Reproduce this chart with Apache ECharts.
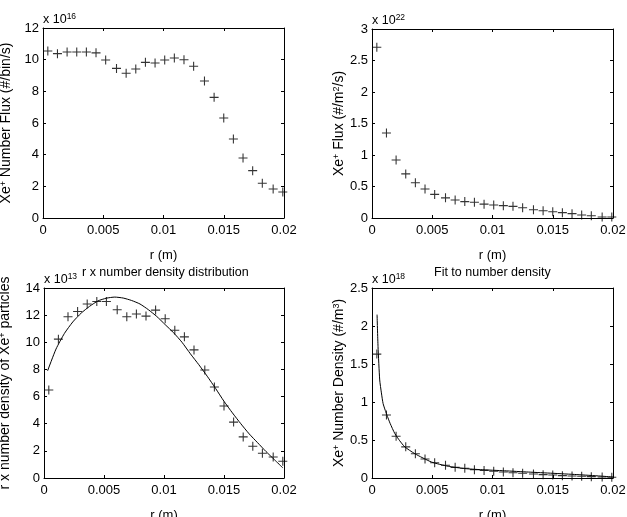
<!DOCTYPE html>
<html>
<head>
<meta charset="utf-8">
<script src="https://cdn.jsdelivr.net/npm/echarts@6/dist/echarts.min.js"></script>
<style>
html, body { margin: 0; padding: 0; background: #fff; }
#chart { width: 627px; height: 517px; }
</style>
</head>
<body>
<div id="chart"></div>
<script>
// bin centres (m)
var rBins = [0.0004, 0.0012, 0.0020, 0.0028, 0.0036, 0.0044, 0.0052, 0.0061, 0.0069, 0.0077,
             0.0085, 0.0093, 0.0101, 0.0109, 0.0117, 0.0125, 0.0134, 0.0142, 0.0150, 0.0158,
             0.0166, 0.0174, 0.0182, 0.0191, 0.0199];

// top left: number flux per bin, x 1e16
var fluxPerBin = [10.55, 10.38, 10.48, 10.48, 10.48, 10.43, 9.98, 9.45, 9.14, 9.41,
                  9.83, 9.79, 9.98, 10.1, 10.0, 9.58, 8.65, 7.62, 6.32, 4.99,
                  3.79, 2.99, 2.19, 1.83, 1.64];

// top right: flux per area, x 1e22
var fluxPerArea = [2.71, 1.35, 0.92, 0.70, 0.56, 0.46, 0.375, 0.32, 0.286, 0.26,
                   0.25, 0.22, 0.206, 0.196, 0.185, 0.164, 0.132, 0.116, 0.10, 0.085,
                   0.069, 0.048, 0.037, 0.016, 0.016];

// bottom left: r x number density, x 1e13
var rDensity = [6.48, 10.23, 11.88, 12.27, 12.82, 13.01, 13.01, 12.40, 11.88, 12.08,
                11.93, 12.37, 11.73, 10.89, 10.40, 9.44, 7.96, 6.70, 5.30, 4.12,
                3.03, 2.34, 1.82, 1.55, 1.23];
var rDensityFitR = [0.0003, 0.0010, 0.0017, 0.0024, 0.0031, 0.0038, 0.0045, 0.0052, 0.0059, 0.0066,
                    0.0073, 0.0080, 0.0087, 0.0094, 0.0101, 0.0108, 0.0115, 0.0122, 0.0129, 0.0136,
                    0.0143, 0.0150, 0.0157, 0.0164, 0.0171, 0.0178, 0.0185, 0.0192, 0.0199];
var rDensityFit = [7.9, 9.5, 10.65, 11.5, 12.15, 12.65, 13.05, 13.25, 13.33, 13.26,
                   13.08, 12.82, 12.4, 11.9, 11.3, 10.7, 10.0, 9.15, 8.35, 7.5,
                   6.6, 5.65, 4.8, 4.0, 3.25, 2.6, 1.95, 1.35, 0.75];

// bottom right: number density, x 1e18
var density = [1.63, 0.83, 0.55, 0.41, 0.32, 0.25, 0.20, 0.167, 0.14, 0.128,
               0.11, 0.10, 0.088, 0.079, 0.07, 0.062, 0.053, 0.044, 0.04, 0.031,
               0.026, 0.022, 0.018, 0.013, 0.009];
var densityFitR = [0.00042, 0.0005, 0.00064, 0.00078, 0.00092, 0.0011, 0.00128, 0.0015, 0.00189, 0.0023,
                   0.00272, 0.00355, 0.00494, 0.00633, 0.0077, 0.009, 0.011, 0.013, 0.015, 0.017,
                   0.019, 0.0201];
var densityFit = [2.15, 1.73, 1.29, 1.12, 0.98, 0.89, 0.81, 0.72, 0.586, 0.49,
                  0.41, 0.32, 0.21, 0.154, 0.124, 0.11, 0.095, 0.078, 0.062, 0.045,
                  0.025, 0.012];

// y axis ranges [max, interval]
var yRanges = [[12, 2], [3, 0.5], [14, 2], [2.5, 0.5]];
var yNames = ['Xe{s|+} Number Flux (#/bin/s)', 'Xe{s|+} Flux (#/m{s|2}/s)',
              'r x number density of Xe{s|+} particles', 'Xe{s|+} Number Density (#/m{s|3})'];
var exponents = ['16', '22', '13', '18'];

var FONT = '"Liberation Sans", Arial, Helvetica, sans-serif';
var plusPath = 'path://M4.4,0 L5.6,0 L5.6,4.4 L10,4.4 L10,5.6 L5.6,5.6 L5.6,10 L4.4,10 L4.4,5.6 L0,5.6 L0,4.4 L4.4,4.4 Z';

var grids = [
  { left: 43, top: 28, width: 241, height: 190, outerBoundsMode: 'none' },
  { left: 372, top: 29, width: 241, height: 189, outerBoundsMode: 'none' },
  { left: 44, top: 288, width: 240, height: 190, outerBoundsMode: 'none' },
  { left: 372, top: 288, width: 241, height: 190, outerBoundsMode: 'none' }
];
var yNameGaps = [29, 20, 31, 22];

function pairs(xs, ys) {
  var out = [];
  for (var i = 0; i < ys.length; i++) out.push([xs[i], ys[i]]);
  return out;
}

var supRich = { s: { fontSize: 9, fontFamily: FONT, color: '#000', padding: [0, 0, 6, 0] } };

var xAxes = [], yAxes = [];
for (var g = 0; g < 4; g++) {
  var line = { onZero: false, lineStyle: { color: '#000', width: 1 } };
  var tick = { inside: true, length: 3, lineStyle: { color: '#000', width: 1 } };
  xAxes.push({
    type: 'value', gridIndex: g, min: 0, max: 0.02, interval: 0.005, position: 'bottom',
    axisLine: line, axisTick: tick, splitLine: { show: false },
    axisLabel: { color: '#000', fontSize: 13, fontFamily: FONT, margin: 6,
      formatter: function (v) { return String(+v.toFixed(4)); } },
    name: 'r (m)', nameLocation: 'middle', nameGap: 31,
    nameTextStyle: { color: '#000', fontSize: 13, fontFamily: FONT }
  });
  xAxes.push({
    type: 'value', gridIndex: g, min: 0, max: 0.02, interval: 0.005, position: 'top',
    axisLine: line, axisTick: tick, splitLine: { show: false }, axisLabel: { show: false }
  });
  yAxes.push({
    type: 'value', gridIndex: g, min: 0, max: yRanges[g][0], interval: yRanges[g][1], position: 'left',
    axisLine: line, axisTick: tick, splitLine: { show: false },
    axisLabel: { color: '#000', fontSize: 13, fontFamily: FONT, margin: 4 },
    name: yNames[g], nameLocation: 'middle', nameGap: yNameGaps[g],
    nameTextStyle: { color: '#000', fontSize: 14, fontFamily: FONT, rich: supRich }
  });
  yAxes.push({
    type: 'value', gridIndex: g, min: 0, max: yRanges[g][0], interval: yRanges[g][1], position: 'right',
    axisLine: line, axisTick: tick, splitLine: { show: false }, axisLabel: { show: false }
  });
}

function scatter(g, ys) {
  return {
    type: 'scatter', xAxisIndex: g * 2, yAxisIndex: g * 2, data: pairs(rBins, ys),
    symbol: plusPath, symbolSize: 9, itemStyle: { color: '#000' }, silent: true
  };
}
function fit(g, xs, ys) {
  return {
    type: 'line', xAxisIndex: g * 2, yAxisIndex: g * 2, data: pairs(xs, ys),
    showSymbol: false, smooth: 0.2, lineStyle: { color: '#000', width: 1 }, silent: true
  };
}

var expRich = { s: { fontSize: 8.5, fontFamily: FONT, color: '#000', padding: [0, 0, 6, 0] } };
var graphics = [];
for (var k = 0; k < 4; k++) {
  graphics.push({
    type: 'text', left: grids[k].left, top: grids[k].top - 16,
    style: { text: 'x 10{s|' + exponents[k] + '}', fill: '#000', font: '12.5px ' + FONT, rich: expRich }
  });
}
graphics.push({
  type: 'text', left: 82, top: 266,
  style: { text: 'r x number density distribution', fill: '#000', font: '12.5px ' + FONT }
});
graphics.push({
  type: 'text', left: 434, top: 266,
  style: { text: 'Fit to number density', fill: '#000', font: '12.5px ' + FONT }
});

var chart = echarts.init(document.getElementById('chart'));
chart.setOption({
  backgroundColor: '#fff',
  animation: false,
  grid: grids,
  xAxis: xAxes,
  yAxis: yAxes,
  graphic: graphics,
  series: [
    scatter(0, fluxPerBin),
    scatter(1, fluxPerArea),
    scatter(2, rDensity),
    fit(2, rDensityFitR, rDensityFit),
    scatter(3, density),
    fit(3, densityFitR, densityFit)
  ]
});
</script>
</body>
</html>
